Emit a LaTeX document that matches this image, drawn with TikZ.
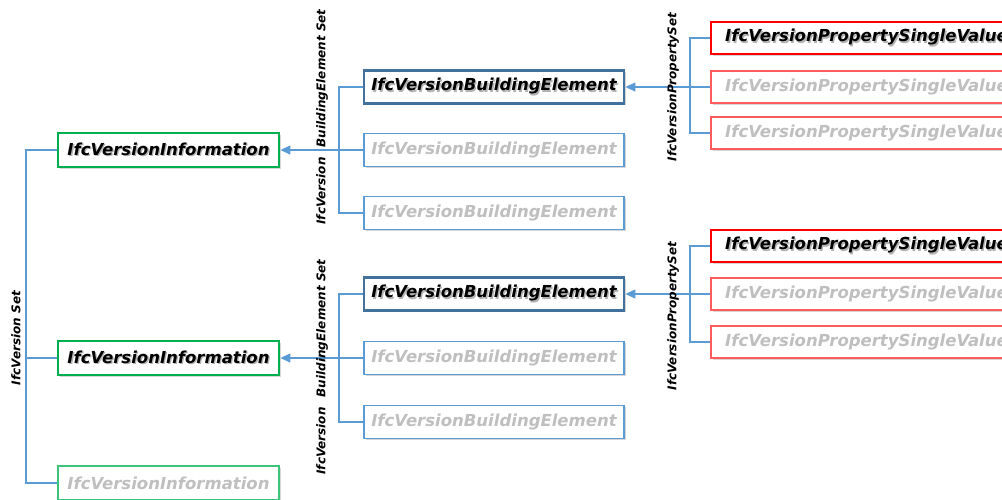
\documentclass[tikz,border=0pt]{standalone}
\usepackage{fontspec}
\setmainfont{DejaVu Sans}
\usetikzlibrary{arrows.meta,shadows}
\definecolor{conn}{HTML}{5B9BD5}
\definecolor{gact}{HTML}{00B050}
\definecolor{gin}{HTML}{3CC47A}
\definecolor{bact}{HTML}{41719C}
\definecolor{bin}{HTML}{5B9BD5}
\definecolor{ract}{HTML}{FF0000}
\definecolor{rin}{HTML}{FF5B5B}
\definecolor{gtext}{HTML}{BFBFBF}
\newcommand\shtxt[1]{\rlap{\kern1.3pt\raisebox{-1.3pt}{\color{black!30}#1}}#1}
\tikzset{
  x=1pt,y=-1pt,
  box/.style={draw,inner sep=0pt,fill=white,font=\fontsize{16.5}{18}\selectfont\bfseries\itshape,
    drop shadow={shadow xshift=1.5pt,shadow yshift=-1.5pt,opacity=0.35,fill=black!45}},
  gbox/.style={box,minimum width=221pt,minimum height=34pt},
  bbox/.style={box,minimum width=260pt,minimum height=33pt},
  rbox/.style={box,minimum width=311pt,minimum height=32pt},
  act/.style={line width=2.8pt,text=black},
  inact/.style={line width=1.2pt,text=gtext},
  conline/.style={draw=conn,line width=1.3pt},
  arr/.style={conline,-{Triangle[length=10pt,width=9pt]}},
  setlabel/.style={rotate=90,inner sep=0pt,font=\fontsize{12}{14}\selectfont\bfseries\itshape}
}
\begin{document}
\begin{tikzpicture}
\clip (0,0) rectangle (1002,499);
\fill[white] (0,0) rectangle (1002,499);
% spine coordinates
\coordinate (s0) at (26,0);
\coordinate (s1) at (339,0);
\coordinate (s2) at (690,0);
% version information
\node[gbox,act,draw=gact] (v1) at (168.5,150) {\shtxt{IfcVersionInformation}};
\node[gbox,act,draw=gact] (v2) at (168.5,358) {\shtxt{IfcVersionInformation}};
\node[gbox,inact,draw=gin] (v3) at (168.5,483) {IfcVersionInformation};
\node[setlabel] (lv) at (16,338) {IfcVersion Set};
% building elements top
\node[bbox,act,draw=bact] (b1) at (494,87) {\shtxt{IfcVersionBuildingElement}};
\node[bbox,inact,draw=bin] (b2) at (494,150) {IfcVersionBuildingElement};
\node[bbox,inact,draw=bin] (b3) at (494,213) {IfcVersionBuildingElement};
% building elements bottom
\node[bbox,act,draw=bact] (b4) at (494,294) {\shtxt{IfcVersionBuildingElement}};
\node[bbox,inact,draw=bin] (b5) at (494,358) {IfcVersionBuildingElement};
\node[bbox,inact,draw=bin] (b6) at (494,422) {IfcVersionBuildingElement};
% property values top
\node[rbox,act,draw=ract] (r1) at (866.5,38) {\shtxt{IfcVersionPropertySingleValue}};
\node[rbox,inact,draw=rin] (r2) at (866.5,87) {IfcVersionPropertySingleValue};
\node[rbox,inact,draw=rin] (r3) at (866.5,133) {IfcVersionPropertySingleValue};
% property values bottom
\node[rbox,act,draw=ract] (r4) at (866.5,246) {\shtxt{IfcVersionPropertySingleValue}};
\node[rbox,inact,draw=rin] (r5) at (866.5,294) {IfcVersionPropertySingleValue};
\node[rbox,inact,draw=rin] (r6) at (866.5,342) {IfcVersionPropertySingleValue};
% spines
\draw[conline] (v1.west) -- (v1.west -| s0) -- (v3.west -| s0) -- (v3.west);
\draw[conline] (v2.west) -- (v2.west -| s0);
\draw[conline] (b1.west) -- (b1.west -| s1) -- (b3.west -| s1) -- (b3.west);
\draw[conline] (b2.west) -- (b2.west -| s1);
\draw[conline] (b4.west) -- (b4.west -| s1) -- (b6.west -| s1) -- (b6.west);
\draw[conline] (b5.west) -- (b5.west -| s1);
\draw[conline] (r1.west) -- (r1.west -| s2) -- (r3.west -| s2) -- (r3.west);
\draw[conline] (r2.west) -- (r2.west -| s2);
\draw[conline] (r4.west) -- (r4.west -| s2) -- (r6.west -| s2) -- (r6.west);
\draw[conline] (r5.west) -- (r5.west -| s2);
% arrows
\draw[arr] (v1.east -| s1) -- (v1.east);
\draw[arr] (v2.east -| s1) -- (v2.east);
\draw[arr] (b1.east -| s2) -- (b1.east);
\draw[arr] (b4.east -| s2) -- (b4.east);
% set labels
\node[setlabel] (lb1) at (322,117) {IfcVersion\hspace{0.5em} BuildingElement Set};
\node[setlabel] (lb2) at (322,367) {IfcVersion\hspace{0.5em} BuildingElement Set};
\node[setlabel] (lp1) at (673,87) {IfcVersionPropertySet};
\node[setlabel] (lp2) at (673,316) {IfcVersionPropertySet};
\end{tikzpicture}
\end{document}
